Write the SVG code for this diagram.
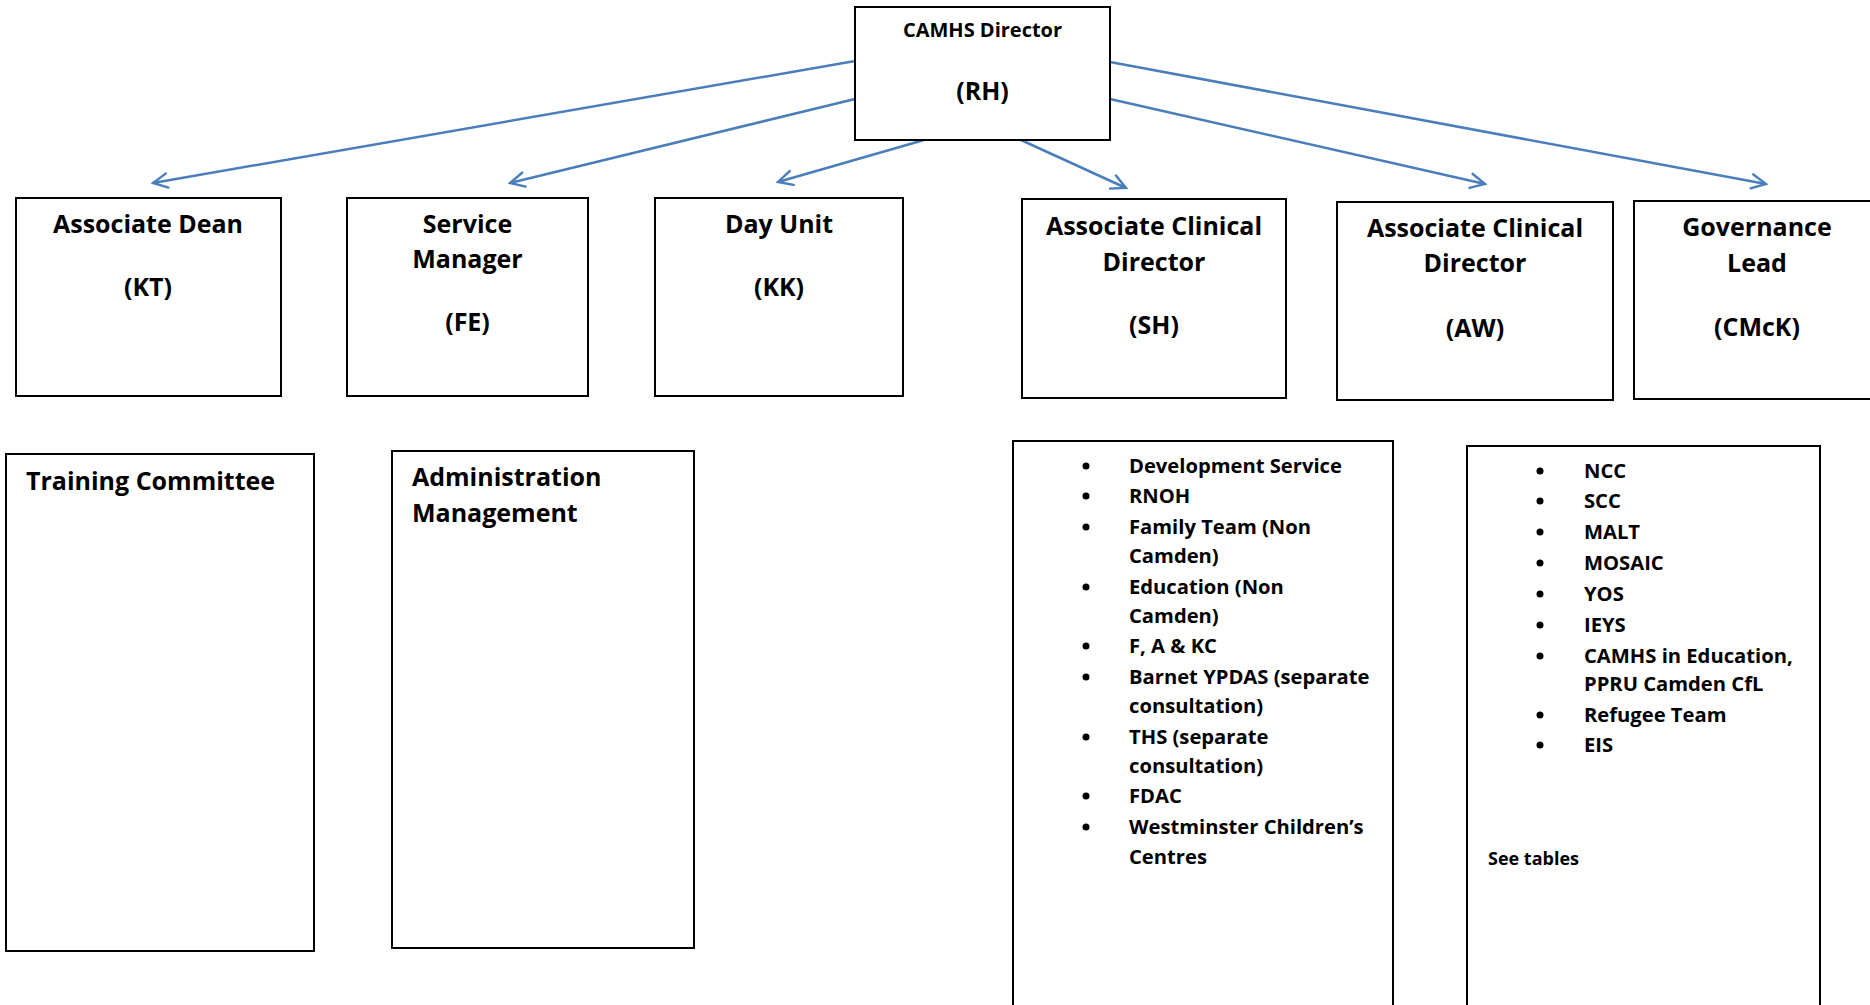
<svg xmlns="http://www.w3.org/2000/svg" width="1870" height="1005" viewBox="0 0 1870 1005">
<style>
.box{fill:#fff;stroke:#000;stroke-width:2}
text{font-family:"Open Sans","Noto Sans","Liberation Sans",sans-serif;font-weight:bold;fill:#000}
.t{font-size:25px;text-anchor:middle}
.h{font-size:25px}
.li{font-size:20.2px}
.conn{stroke:#4a7ebb;stroke-width:2.5;fill:none;marker-end:url(#arr)}
</style>
<defs>
<marker id="arr" viewBox="0 0 20 20" markerWidth="19" markerHeight="19" refX="18" refY="10" orient="auto" markerUnits="userSpaceOnUse">
<path d="M2,2 L18,10 L2,18" fill="none" stroke="#4a7ebb" stroke-width="2.5"/>
</marker>
</defs>
<rect width="1870" height="1005" fill="#fff"/>
<g id="connectors">
<line class="conn" x1="855" y1="61" x2="153" y2="183"/>
<line class="conn" x1="855" y1="99" x2="510" y2="183"/>
<line class="conn" x1="924" y1="140" x2="778" y2="182"/>
<line class="conn" x1="1021" y1="140" x2="1126" y2="188"/>
<line class="conn" x1="1110" y1="99" x2="1485" y2="184"/>
<line class="conn" x1="1110" y1="62" x2="1766" y2="184"/>
</g>
<g id="director">
<rect class="box" x="855" y="7" width="255" height="133"/>
<text x="982.5" y="37" style="font-size:20px;text-anchor:middle">CAMHS Director</text>
<text class="t" x="982.5" y="100">(RH)</text>
</g>
<g id="assoc-dean">
<rect class="box" x="16" y="198" width="265" height="198"/>
<text class="t" x="148" y="233">Associate Dean</text>
<text class="t" x="148" y="296">(KT)</text>
</g>
<g id="service-manager">
<rect class="box" x="347" y="198" width="241" height="198"/>
<text class="t" x="467.5" y="233">Service</text>
<text class="t" x="467.5" y="268">Manager</text>
<text class="t" x="467.5" y="331">(FE)</text>
</g>
<g id="day-unit">
<rect class="box" x="655" y="198" width="248" height="198"/>
<text class="t" x="779" y="233">Day Unit</text>
<text class="t" x="779" y="296">(KK)</text>
</g>
<g id="acd-sh">
<rect class="box" x="1022" y="199" width="264" height="199"/>
<text class="t" x="1154" y="235">Associate Clinical</text>
<text class="t" x="1154" y="271">Director</text>
<text class="t" x="1154" y="334">(SH)</text>
</g>
<g id="acd-aw">
<rect class="box" x="1337" y="202" width="276" height="198"/>
<text class="t" x="1475" y="237">Associate Clinical</text>
<text class="t" x="1475" y="272">Director</text>
<text class="t" x="1475" y="337">(AW)</text>
</g>
<g id="governance">
<rect class="box" x="1634" y="201" width="260" height="198"/>
<text class="t" x="1757" y="236">Governance</text>
<text class="t" x="1757" y="272">Lead</text>
<text class="t" x="1757" y="336">(CMcK)</text>
</g>
<g id="training">
<rect class="box" x="6" y="454" width="308" height="497"/>
<text class="h" x="26" y="490">Training Committee</text>
</g>
<g id="admin">
<rect class="box" x="392" y="451" width="302" height="497"/>
<text class="h" x="412" y="486">Administration</text>
<text class="h" x="412" y="522">Management</text>
</g>
<g id="sh-list">
<rect class="box" x="1013" y="441" width="380" height="580"/>
<g fill="#000">
<circle cx="1086" cy="466" r="3.5"/><circle cx="1086" cy="496" r="3.5"/><circle cx="1086" cy="527" r="3.5"/>
<circle cx="1086" cy="587" r="3.5"/><circle cx="1086" cy="646" r="3.5"/><circle cx="1086" cy="677" r="3.5"/>
<circle cx="1086" cy="737" r="3.5"/><circle cx="1086" cy="796" r="3.5"/><circle cx="1086" cy="827" r="3.5"/>
</g>
<text class="li" x="1129" y="473">Development Service</text>
<text class="li" x="1129" y="503">RNOH</text>
<text class="li" x="1129" y="534">Family Team (Non</text>
<text class="li" x="1129" y="563">Camden)</text>
<text class="li" x="1129" y="594">Education (Non</text>
<text class="li" x="1129" y="623">Camden)</text>
<text class="li" x="1129" y="653">F, A &amp; KC</text>
<text class="li" x="1129" y="684">Barnet YPDAS (separate</text>
<text class="li" x="1129" y="713">consultation)</text>
<text class="li" x="1129" y="744">THS (separate</text>
<text class="li" x="1129" y="773">consultation)</text>
<text class="li" x="1129" y="803">FDAC</text>
<text class="li" x="1129" y="834">Westminster Children’s</text>
<text class="li" x="1129" y="864">Centres</text>
</g>
<g id="aw-list">
<rect class="box" x="1467" y="446" width="353" height="580"/>
<g fill="#000">
<circle cx="1540" cy="471" r="3.5"/><circle cx="1540" cy="501" r="3.5"/><circle cx="1540" cy="532" r="3.5"/>
<circle cx="1540" cy="563" r="3.5"/><circle cx="1540" cy="594" r="3.5"/><circle cx="1540" cy="625" r="3.5"/>
<circle cx="1540" cy="656" r="3.5"/><circle cx="1540" cy="715" r="3.5"/><circle cx="1540" cy="745" r="3.5"/>
</g>
<text class="li" x="1584" y="478">NCC</text>
<text class="li" x="1584" y="508">SCC</text>
<text class="li" x="1584" y="539">MALT</text>
<text class="li" x="1584" y="570">MOSAIC</text>
<text class="li" x="1584" y="601">YOS</text>
<text class="li" x="1584" y="632">IEYS</text>
<text class="li" x="1584" y="663">CAMHS in Education,</text>
<text class="li" x="1584" y="691">PPRU Camden CfL</text>
<text class="li" x="1584" y="722">Refugee Team</text>
<text class="li" x="1584" y="752">EIS</text>
<text x="1488" y="865" style="font-size:18px">See tables</text>
</g>
</svg>
